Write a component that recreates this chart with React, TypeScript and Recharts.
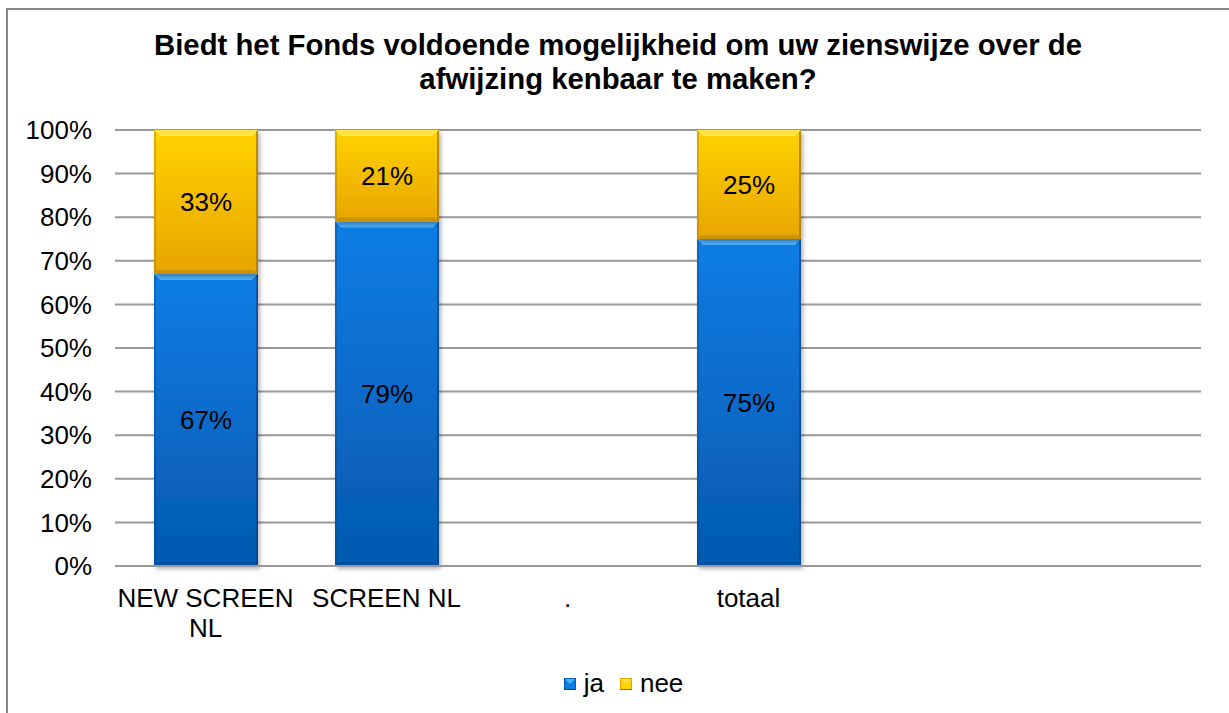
// Stacked 100% bar chart: "ja" / "nee" answers per fonds, Excel-style bevelled bars.

import React from "react";
import {
  Bar,
  BarChart,
  CartesianGrid,
  LabelList,
  Legend,
  XAxis,
  YAxis,
} from "recharts";

const titleLines = [
  "Biedt het Fonds voldoende mogelijkheid om uw zienswijze over de",
  "afwijzing kenbaar te maken?",
];
const categories = ["NEW SCREEN NL", "SCREEN NL", ".", "totaal", "", ""];
const jaValues = [67, 79, null, 75, null, null];
const neeValues = [33, 21, null, 25, null, null];
const yTicks = [0, 10, 20, 30, 40, 50, 60, 70, 80, 90, 100];

const data = categories.map((name, i) => ({
  name,
  ja: jaValues[i],
  nee: neeValues[i],
}));

const FONT = '"Liberation Sans", Arial, sans-serif';

const palettes: Record<string, { top: string; bottom: string; light: string; dark: string; edge: string }> = {
  ja: { top: "#0C7DE5", bottom: "#0559AE", light: "#4DB3FF", dark: "#044C98", edge: "#05458A" },
  nee: { top: "#FFD300", bottom: "#E8A500", light: "#FFE34A", dark: "#B88500", edge: "#9C7000" },
};

// word-wrap a tick label to the category band width
let measureCtx: CanvasRenderingContext2D | null = null;
function wrapLabel(text: string, maxWidth: number): string[] {
  if (!measureCtx) {
    measureCtx = document.createElement("canvas").getContext("2d");
  }
  const ctx = measureCtx!;
  ctx.font = `26px ${FONT}`;
  const words = text.split(" ");
  const lines: string[] = [];
  let cur = "";
  for (const w of words) {
    const next = cur ? `${cur} ${w}` : w;
    if (cur && ctx.measureText(next).width > maxWidth) {
      lines.push(cur);
      cur = w;
    } else {
      cur = next;
    }
  }
  if (cur) lines.push(cur);
  return lines;
}

function BevelBar(props: any) {
  const { x, y, width: w, height: h, series } = props;
  if (h == null || h <= 0 || w <= 0) return null;
  const p = palettes[series];
  const b = Math.min(6, h / 2);
  const bb = Math.min(4, h / 2);
  return (
    <g filter="url(#barShadow)">
      <rect x={x} y={y} width={w} height={h} fill={`url(#grad-${series})`} />
      <polygon
        points={`${x},${y} ${x + w},${y} ${x + w - b},${y + b} ${x + b},${y + b}`}
        fill={p.light}
      />
      <polygon
        points={`${x},${y + h} ${x + w},${y + h} ${x + w - bb},${y + h - bb} ${x + bb},${y + h - bb}`}
        fill={p.dark}
        opacity={0.6}
      />
      <polygon
        points={`${x + w},${y} ${x + w},${y + h} ${x + w - 2},${y + h - 2} ${x + w - 2},${y + 2}`}
        fill={p.edge}
        opacity={0.7}
      />
      <polygon
        points={`${x},${y} ${x},${y + h} ${x + 2},${y + h - 2} ${x + 2},${y + 2}`}
        fill={p.edge}
        opacity={0.35}
      />
    </g>
  );
}

function SegmentLabel(props: any) {
  const { value } = props;
  if (value == null) return null;
  const vb = props.viewBox || props;
  const cx = vb.x + vb.width / 2;
  const cy = vb.y + vb.height / 2;
  return (
    <text
      x={cx}
      y={cy}
      textAnchor="middle"
      dominantBaseline="central"
      fontSize={26}
      fontFamily={FONT}
      fill="#000"
    >
      {`${value}%`}
    </text>
  );
}

function CategoryTick(props: any) {
  const { x, y, payload } = props;
  const lines = wrapLabel(String(payload.value ?? ""), 195);
  return (
    <text x={x} y={y} textAnchor="middle" fontSize={26} fontFamily={FONT} fill="#000">
      {lines.map((line, i) => (
        <tspan key={i} x={x} dy={i === 0 ? 19 : 30}>
          {line}
        </tspan>
      ))}
    </text>
  );
}

function LegendIcon({ series }: { series: string }) {
  const p = palettes[series];
  return (
    <svg width={12} height={12} style={{ marginRight: 2 }}>
      <rect x={0} y={0} width={12} height={12} fill={p.bottom} />
      <rect x={1} y={1} width={10} height={10} fill={p.top} />
      <polygon points="1,1 11,1 6,6" fill={p.light} />
      <rect x={0} y={11} width={12} height={1} fill={p.edge} />
    </svg>
  );
}

function LegendContent() {
  const items = [
    { key: "ja", label: "ja" },
    { key: "nee", label: "nee" },
  ];
  return (
    <div
      style={{
        display: "flex",
        justifyContent: "center",
        alignItems: "center",
        paddingLeft: 34,
        fontFamily: FONT,
        fontSize: 26,
        color: "#000",
      }}
    >
      {items.map((it) => (
        <div key={it.key} style={{ display: "flex", alignItems: "center", marginRight: 16 }}>
          <LegendIcon series={it.key} />
          <span style={{ marginLeft: 6 }}>{it.label}</span>
        </div>
      ))}
    </div>
  );
}

export default function App() {
  return (
    <div
      style={{
        position: "absolute",
        left: 0,
        top: 0,
        width: 1229,
        height: 713,
        background: "#fff",
        overflow: "hidden",
      }}
    >
      <div
        style={{
          position: "absolute",
          left: 6,
          top: 8,
          width: 1240,
          height: 720,
          border: "2px solid #888",
          boxSizing: "border-box",
        }}
      />
      <div
        style={{
          position: "absolute",
          left: 7,
          top: 28,
          width: 1222,
          textAlign: "center",
          fontFamily: FONT,
          fontWeight: "bold",
          fontSize: 29.3,
          lineHeight: "34px",
          color: "#000",
        }}
      >
        {titleLines.map((line) => (
          <div key={line}>{line}</div>
        ))}
      </div>
      <div style={{ position: "absolute", left: 0, top: 0 }}>
        <BarChart
          width={1229}
          height={713}
          data={data}
          margin={{ top: 130, right: 28, bottom: 87, left: 0 }}
        >
          <defs>
            <linearGradient id="grad-ja" x1="0" y1="0" x2="0" y2="1">
              <stop offset="0%" stopColor={palettes.ja.top} />
              <stop offset="100%" stopColor={palettes.ja.bottom} />
            </linearGradient>
            <linearGradient id="grad-nee" x1="0" y1="0" x2="0" y2="1">
              <stop offset="0%" stopColor={palettes.nee.top} />
              <stop offset="100%" stopColor={palettes.nee.bottom} />
            </linearGradient>
            <filter id="barShadow" x="-10%" y="-10%" width="130%" height="130%">
              <feDropShadow dx={2} dy={3} stdDeviation={2} floodColor="#000" floodOpacity={0.3} />
            </filter>
          </defs>
          <CartesianGrid vertical={false} stroke="#999" strokeWidth={2} />
          <XAxis
            dataKey="name"
            height={60}
            axisLine={{ stroke: "#999", strokeWidth: 2 }}
            tickLine={false}
            tickMargin={16}
            interval={0}
            tick={<CategoryTick />}
          />
          <YAxis
            width={115}
            domain={[0, 100]}
            ticks={yTicks}
            axisLine={false}
            tickLine={false}
            tickMargin={17}
            tickFormatter={(v: number) => `${v}%`}
            tick={{ fontSize: 26, fontFamily: FONT, fill: "#000" }}
          />
          <Legend
            layout="horizontal"
            verticalAlign="middle"
            align="center"
            content={<LegendContent />}
            wrapperStyle={{ top: 668, left: 0, width: 1229 }}
          />
          <Bar
            dataKey="ja"
            name="ja"
            stackId="a"
            barSize={104}
            isAnimationActive={false}
            shape={(p: any) => <BevelBar {...p} series="ja" />}
          >
            <LabelList dataKey="ja" content={<SegmentLabel />} />
          </Bar>
          <Bar
            dataKey="nee"
            name="nee"
            stackId="a"
            barSize={104}
            isAnimationActive={false}
            shape={(p: any) => <BevelBar {...p} series="nee" />}
          >
            <LabelList dataKey="nee" content={<SegmentLabel />} />
          </Bar>
        </BarChart>
      </div>
    </div>
  );
}
